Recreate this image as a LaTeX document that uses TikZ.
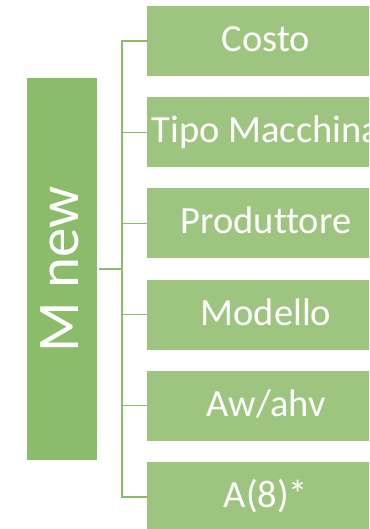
\documentclass[tikz,border=0pt]{standalone}
\usepackage{fontspec}
\setmainfont[Ligatures=NoCommon]{Carlito}
\definecolor{rootgreen}{HTML}{8BBC69}
\definecolor{leafgreen}{HTML}{9DC57F}
\definecolor{linkgreen}{HTML}{8BBC69}
\tikzset{
  rootbox/.style={fill=rootgreen, draw=none, minimum width=70pt, minimum height=382pt, inner sep=0pt},
  rootlabel/.style={text=white, font=\fontsize{59}{62}\selectfont, rotate=90, inner sep=0pt,
    text height=38pt, text depth=6pt},
  leafbox/.style={fill=leafgreen, draw=none, minimum width=238pt, minimum height=70pt, inner sep=0pt,
    text=white, font=\fontsize{38.5}{41}\selectfont, text height=24.8pt, text depth=3.9pt},
  link/.style={draw=linkgreen, line width=1.3pt}
}
\begin{document}
\begin{tikzpicture}[x=1pt, y=-1pt]
  \useasboundingbox (0,0) rectangle (369,529);
  \clip (0,0) rectangle (369,529);
  % root of the tree
  \node[rootbox] (root) at (62,269) {};
  \node[rootlabel] (rootname) at (root.center) {M new};
  % children
  \node[leafbox] (c1) at (266,41) {Costo};
  \node[leafbox] (c2) at (266,132.2) {Tipo Macchina};
  \node[leafbox] (c3) at (266,223.4) {Produttore};
  \node[leafbox] (c4) at (266,314.6) {Modello};
  \node[leafbox] (c5) at (266,405.8) {Aw/ahv};
  \node[leafbox] (c6) at (266,497) {A(8)*};
  % connectors
  \coordinate (j) at (122,269);
  \draw[link, shorten <=2pt] (root.east) -- (j);
  \foreach \c in {c1,c2,c3,c4,c5,c6}
    \draw[link] (j) |- (\c.west);
\end{tikzpicture}
\end{document}
